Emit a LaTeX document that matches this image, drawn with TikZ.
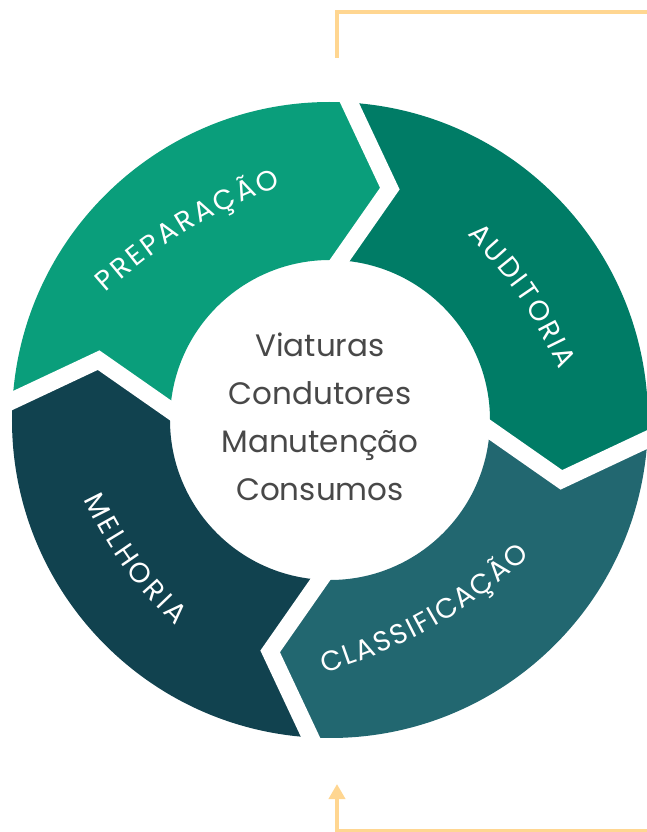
\documentclass[tikz,border=0pt]{standalone}
\usepackage{fontspec}
\setmainfont{Poppins}
\usetikzlibrary{arrows.meta, decorations.text}

\definecolor{prepgreen}{RGB}{10,158,123}
\definecolor{auditgreen}{RGB}{0,124,102}
\definecolor{classifteal}{RGB}{34,103,112}
\definecolor{melhslate}{RGB}{17,66,79}
\definecolor{framegold}{RGB}{255,214,145}
\definecolor{textgrey}{RGB}{72,72,72}

\newcommand{\ringouter}{318}
\newcommand{\ringmid}{239}
\newcommand{\ringinner}{160}
\newcommand{\ringfont}{\fontsize{28}{28}\selectfont}

\tikzset{
	gapline/.style = {white, line width = 17pt, line cap = rect, line join = miter},
	frameline/.style = {framegold, line width = 4pt},
	ringlabel/.style = {decorate, decoration = {text along path, text = {#1}, text align = fit to path, text color = white}},
}

\begin{document}
\begin{tikzpicture}[x = 1pt, y = 1pt]

	\useasboundingbox (-330, -412) rectangle (316, 420);

	% Segments
	
	\foreach \a/\c in {176.5/prepgreen, 86.5/auditgreen, -3.5/classifteal, -93.5/melhslate}
		\fill [\c] ({\a}:\ringouter) -- ({\a - 11}:\ringmid) -- ({\a}:\ringinner)
			arc [start angle = \a, end angle = \a - 90, radius = \ringinner]
			-- ({\a - 101}:\ringmid) -- ({\a - 90}:\ringouter)
			arc [start angle = \a - 90, end angle = \a, radius = \ringouter] -- cycle;

	% Gaps
	
	\foreach \a in {176.5, 86.5, -3.5, -93.5}
		\draw [gapline] ({\a}:\ringouter) -- ({\a - 11}:\ringmid) -- ({\a}:\ringinner);

	% Labels
	
	\coordinate (prepstart) at (-224, 127);
	\coordinate (prepend) at (-49, 234);
	\path [ringlabel = {|\ringfont|PREPARAÇÃO}] (prepstart) to [bend left = 10] (prepend);
	
	\coordinate (auditstart) at (137, 185);
	\coordinate (auditend) at (229, 50);
	\path [ringlabel = {|\ringfont|AUDITORIA}] (auditstart) to [bend left = 10] (auditend);
	
	\coordinate (classifstart) at (-6, -253);
	\coordinate (classifend) at (200, -136);
	\path [ringlabel = {|\ringfont|CLASSIFICAÇÃO}] (classifstart) to [bend right = 12] (classifend);
	
	\coordinate (melhstart) at (-246, -79);
	\coordinate (melhend) at (-154, -206);
	\path [ringlabel = {|\ringfont|MELHORIA}] (melhstart) to [bend right = 10] (melhend);

	% Centre
	
	\node [textgrey, align = center, font = \fontsize{31}{48}\selectfont] (themes) at (-10, 3.5) {Viaturas\\Condutores\\Manutenção\\Consumos};

	% Frame
	
	\coordinate (topfoot) at (7, 362);
	\coordinate (topcorner) at (7, 408);
	\coordinate (topend) at (320, 408);
	\draw [frameline] (topfoot) -- (topcorner) -- (topend);
	
	\coordinate (botstart) at (320, -411);
	\coordinate (botcorner) at (7, -411);
	\coordinate (bottip) at (7, -364);
	\draw [frameline, -{Triangle[length = 15pt, width = 16pt]}] (botstart) -- (botcorner) -- (bottip);

\end{tikzpicture}
\end{document}
